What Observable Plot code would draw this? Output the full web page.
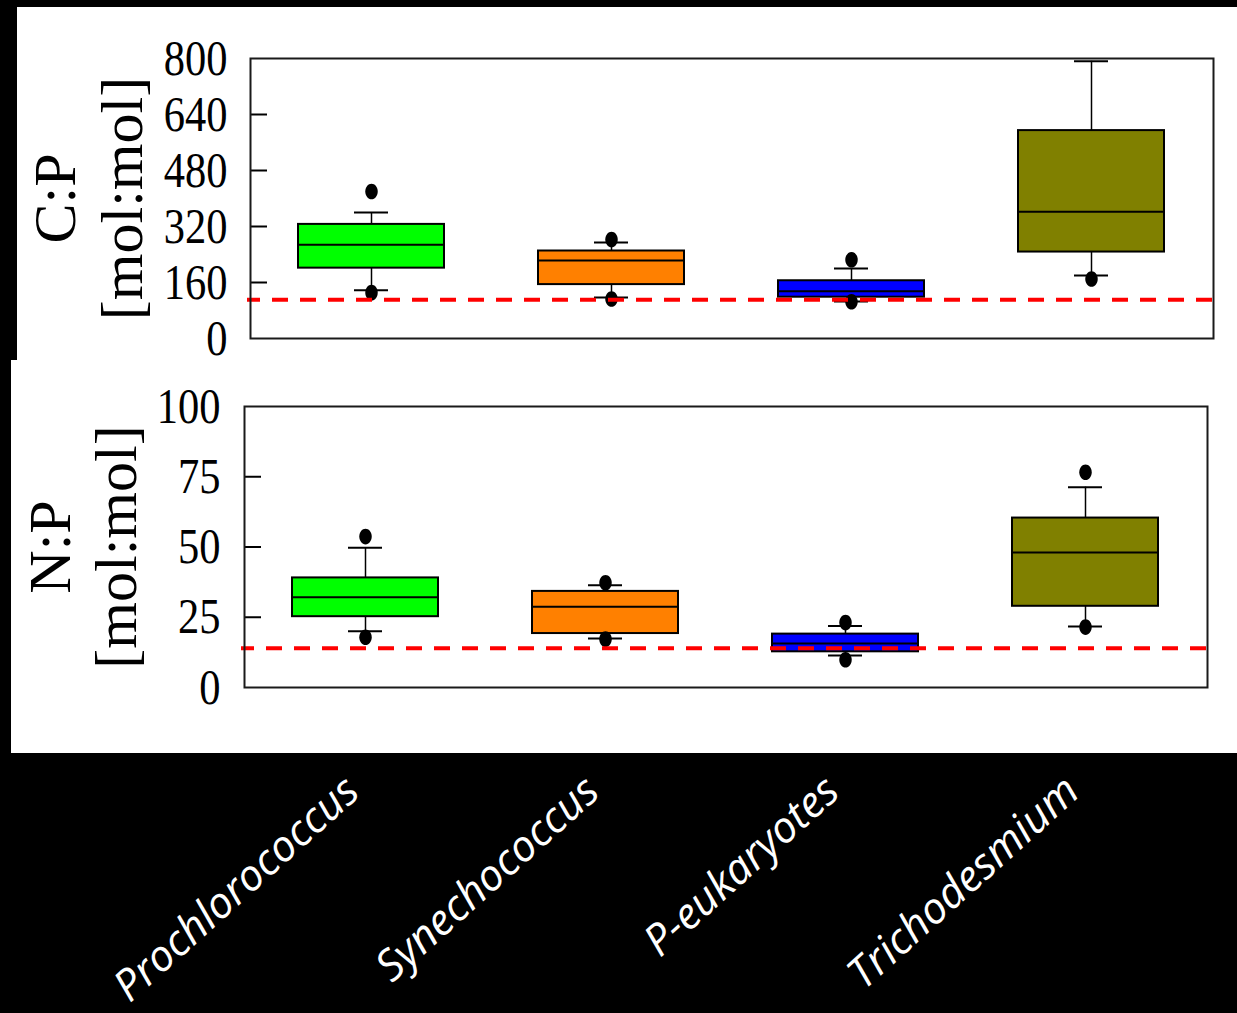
<!DOCTYPE html>
<html><head><meta charset="utf-8">
<script src="https://cdn.jsdelivr.net/npm/d3@7"></script>
<script src="https://cdn.jsdelivr.net/npm/@observablehq/plot@0.6"></script>
<style>
html,body{margin:0;padding:0;background:#000;width:1237px;height:1013px;overflow:hidden}
#root{position:relative;width:1237px;height:1013px}
.panel{position:absolute;background:#fff}
.chart{position:absolute;left:0}
</style></head><body>
<div id="root">
  <div class="panel" style="left:17px;top:7px;width:1220px;height:353px"></div>
  <div class="panel" style="left:11px;top:360px;width:1226px;height:393px"></div>
  <div class="chart" id="top" style="top:0"></div>
  <div class="chart" id="bottom" style="top:360px"></div>
</div>
<script>
// ---- data ----
const categories = ["Prochlorococcus", "Synechococcus", "P-eukaryotes", "Trichodesmium"];
const colors = ["#00ff00", "#ff8000", "#0000ff", "#808000"];

// C:P [mol:mol]
const cpLow    = [138, 117, 106, 180];
const cpQ1     = [201, 154, 118, 247];
const cpMedian = [268, 223, 135, 362];
const cpQ3     = [326, 250, 165, 594];
const cpHigh   = [360, 274, 200, 792];
const cpOutliers = [[420, 131], [283, 113], [225, 105], [170]];
const cpRedfield = 111;
const cpTicks = [0, 160, 320, 480, 640, 800];

// N:P [mol:mol]
const npLow    = [20.0, 17.4, 11.4, 21.7];
const npQ1     = [25.2, 19.2, 12.7, 28.9];
const npMedian = [32.1, 28.7, 15.7, 48.0];
const npQ3     = [39.0, 34.2, 19.0, 60.3];
const npHigh   = [49.7, 36.4, 21.9, 71.3];
const npOutliers = [[53.7, 17.9], [37.3, 17.2], [23.1, 9.9], [76.6, 21.5]];
const npRedfield = 14;
const npTicks = [0, 25, 50, 75, 100];

// ---- helpers ----
function rows(low, q1, med, q3, high) {
  return categories.map((c, i) => ({cat: c, low: low[i], q1: q1[i], med: med[i], q3: q3[i], high: high[i]}));
}
function outl(arr) {
  return arr.flatMap((vals, i) => vals.map(v => ({cat: categories[i], v})));
}
const ellipse = {
  draw(ctx, size) {
    const r = Math.sqrt(size / Math.PI), rx = r * 0.8, ry = r, k = 0.5523;
    ctx.moveTo(rx, 0);
    ctx.bezierCurveTo(rx, k * ry, k * rx, ry, 0, ry);
    ctx.bezierCurveTo(-k * rx, ry, -rx, k * ry, -rx, 0);
    ctx.bezierCurveTo(-rx, -k * ry, -k * rx, -ry, 0, -ry);
    ctx.bezierCurveTo(k * rx, -ry, rx, -k * ry, rx, 0);
    ctx.closePath();
  }
};
const serif = "'Liberation Serif', 'Times New Roman', serif";

function panel(o) {
  const W = 1237;
  const frameW = W - o.ml - o.mr;
  const data = rows(...o.stats);
  const marks = [
    Plot.ruleX(data, {x: "cat", y1: "low", y2: "high", stroke: "black", strokeWidth: 1.5}),
    Plot.tickY(data, {x: "cat", y: "low", stroke: "black", strokeWidth: 2, insetLeft: 56, insetRight: 56}),
    Plot.tickY(data, {x: "cat", y: "high", stroke: "black", strokeWidth: 2, insetLeft: 56, insetRight: 56}),
    Plot.barY(data, {x: "cat", y1: "q1", y2: "q3", fill: "cat", stroke: "black", strokeWidth: 2}),
    Plot.tickY(data, {x: "cat", y: "med", stroke: "black", strokeWidth: 2}),
    Plot.dot(outl(o.outliers), {x: "cat", y: "v", r: 7.8, fill: "black", symbol: ellipse}),
    Plot.ruleY([o.ref], {stroke: "#ff0000", strokeWidth: 4, strokeDasharray: "16,12", strokeDashoffset: 3, insetLeft: -3, insetRight: -2}),
    Plot.tickY(o.ticks.slice(1, -1), {y: d => d, stroke: "black", strokeWidth: 2, insetRight: frameW - 17}),
    Plot.frame({stroke: "#1a1a1a", strokeWidth: 2}),
    Plot.axisY({ticks: o.ticks, tickSize: 0, tickPadding: o.tickPad, fontSize: 50, fontFamily: serif, label: null}),
    Plot.text([o.label1], {text: d => d, frameAnchor: "left", textAnchor: "middle", lineAnchor: "middle", rotate: -90, dx: o.dx1, fontSize: 60, fontFamily: serif, fill: "black"}),
    Plot.text([o.label2], {text: d => d, frameAnchor: "left", textAnchor: "middle", lineAnchor: "middle", rotate: -90, dx: o.dx2, fontSize: 60, fontFamily: serif, fill: "black"})
  ];
  if (o.xLabels) {
    marks.push(Plot.axisX({tickSize: 0, tickPadding: 97, tickRotate: -42, dx: -13, fontSize: 43,
      fontFamily: "'Open Sans', Lato, sans-serif", fontStyle: "italic", fill: "white", label: null}));
  }
  const svg = Plot.plot({
    width: W, height: o.height,
    marginLeft: o.ml, marginRight: o.mr, marginTop: o.mt, marginBottom: o.mb,
    style: {background: "transparent", overflow: "visible", color: "black", fontFamily: serif},
    x: {domain: categories, paddingInner: 0.39, paddingOuter: 0.195, axis: null},
    y: {domain: o.domain, axis: null},
    color: {type: "ordinal", domain: categories, range: colors},
    marks
  });
  // condensed serif tick labels
  svg.querySelectorAll('[aria-label="y-axis tick label"] text').forEach(t => {
    const tr = t.getAttribute("transform");
    if (tr) t.setAttribute("transform", tr + " scale(0.85,1)");
  });
  return svg;
}

document.getElementById("top").append(panel({
  stats: [cpLow, cpQ1, cpMedian, cpQ3, cpHigh], outliers: cpOutliers, ref: cpRedfield,
  domain: [0, 800], ticks: cpTicks, height: 360, ml: 250, mr: 24, mt: 58, mb: 22, tickPad: 23,
  label1: "C:P", label2: "[mol:mol]", dx1: -195, dx2: -128
}));
document.getElementById("bottom").append(panel({
  stats: [npLow, npQ1, npMedian, npQ3, npHigh], outliers: npOutliers, ref: npRedfield,
  domain: [0, 100], ticks: npTicks, height: 653, ml: 244, mr: 30, mt: 46, mb: 326, tickPad: 24,
  label1: "N:P", label2: "[mol:mol]", dx1: -194, dx2: -128, xLabels: true
}));
</script>
</body></html>
